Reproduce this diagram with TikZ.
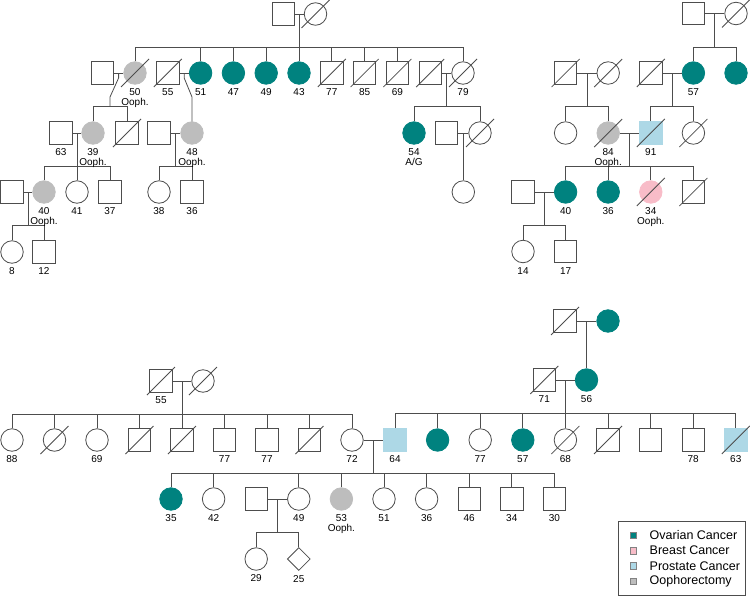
\documentclass[tikz,border=0pt]{standalone}
\usepackage{fontspec}
\setmainfont{Liberation Sans}
\usetikzlibrary{positioning,shapes.geometric,calc}
\definecolor{ovar}{HTML}{00827F}
\definecolor{brst}{HTML}{F8BCC8}
\definecolor{prost}{HTML}{ADD8E6}
\definecolor{ooph}{HTML}{BDBDBD}
\definecolor{lncol}{HTML}{4D4D4D}

\tikzset{
  ind/.style={draw=lncol,line width=0.8pt,inner sep=0pt,minimum size=22.5pt},
  male/.style={ind,rectangle},
  fem/.style={ind,circle},
  unk/.style={ind,diamond,aspect=1,minimum size=23pt},
  ov/.style={fill=ovar,draw=ovar},
  br/.style={fill=brst,draw=brst},
  pr/.style={fill=prost,draw=prost},
  op/.style={fill=ooph,draw=ooph},
  fov/.style={fem,ov},
  fop/.style={fem,op},
  mpr/.style={male,pr},
  rel/.style={draw=lncol,line width=0.8pt},
  lab/.style={font=\fontsize{10}{9.5}\selectfont,align=center,inner sep=0pt},
  key/.style={draw=lncol!70,line width=0.5pt,inner sep=0pt,minimum size=6.5pt},
  keytext/.style={font=\fontsize{12.5}{14}\selectfont,inner sep=0pt,anchor=west}
}

\begin{document}
\begin{tikzpicture}[x=1pt,y=-1pt]
\useasboundingbox (0,0) rectangle (750,597);

% top left family
\node[male] (a1) at (283.5,14) {};
\node[fem] (a2) at (315.5,14) {};
\node[male] (b1) at (102.2,73) {};
\node[fop] (b2) at (135,73) {};
\node[male] (b3) at (167.8,73) {};
\foreach \x [count=\i from 4] in {200.6,233.4,266.2,299} \node[fov] (b\i) at (\x,73) {};
\foreach \x [count=\i from 8] in {331.8,364.6,397.4,430.2} \node[male] (b\i) at (\x,73) {};
\node[fem] (b12) at (463,73) {};
\node[male] (c1) at (61,133) {};
\node[fop] (c2) at (93,133) {};
\node[male] (c3) at (127,133) {};
\node[male] (c4) at (159,133) {};
\node[fop] (c5) at (192,133) {};
\node[male] (d1) at (12,192) {};
\node[fop] (d2) at (44,192) {};
\node[fem] (d3) at (77,192) {};
\node[male] (d4) at (110,192) {};
\node[fem] (d5) at (159,192) {};
\node[male] (d6) at (192,192) {};
\node[fem] (e1) at (12,252) {};
\node[male] (e2) at (44,252) {};
\node[fov] (f1) at (414,133) {};
\node[male] (f2) at (446.6,133) {};
\node[fem] (f3) at (480,133) {};
\node[fem] (g1) at (463.3,192) {};

% top right family
\node[male] (h1) at (693.4,13.5) {};
\node[fem] (h2) at (736,13.5) {};
\node[male] (r1) at (565.6,73) {};
\node[fem] (r2) at (608.2,73) {};
\node[male] (r3) at (650.8,73) {};
\node[fov] (r4) at (693.4,73) {};
\node[fov] (r5) at (736,73) {};
\node[fem] (s1) at (565.6,133) {};
\node[fop] (s2) at (608.2,133) {};
\node[mpr] (s3) at (650.8,133) {};
\node[fem] (s4) at (693.4,133) {};
\node[male] (t1) at (523,192) {};
\node[fov] (t2) at (565.6,192) {};
\node[fov] (t3) at (608.2,192) {};
\node[fem,br] (t4) at (650.8,192) {};
\node[male] (t5) at (693.4,192) {};
\node[fem] (u1) at (523,251.5) {};
\node[male] (u2) at (565.6,251.5) {};

% bottom family
\node[male] (v1) at (161,381) {};
\node[fem] (v2) at (203,381) {};
\foreach \s [count=\i] in {fem,fem,fem,male,male,male,male,male,fem}
  \node[\s] (w\i) at (12+42.5*\i-42.5,440) {};
\node[mpr] (q1) at (395,440) {};
\foreach \s [count=\i from 2] in {fov,fem,fov,fem,male,male,male,mpr}
  \node[\s] (q\i) at (395+42.6*\i-42.6,440) {};
\foreach \s [count=\i] in {fov,fem,male,fem,fop,fem,fem,male,male,male}
  \node[\s] (k\i) at (171+42.6*\i-42.6,499) {};
\node[fem] (n1) at (256.2,559) {};
\node[unk] (n2) at (298.8,559) {};
\node[male] (o1) at (565,321) {};
\node[fov] (o2) at (608,321) {};
\node[male] (p1) at (544.3,380) {};
\node[fov] (p2) at (586.5,380) {};

% couples
\foreach \u/\v in {a1/a2,b1/b2,b3/b4,b11/b12,c1/c2,c4/c5,d1/d2,f2/f3,h1/h2,r1/r2,r3/r4,s2/s3,t1/t2,v1/v2,w9/q1,k3/k4,o1/o2,p1/p2}
{
  \draw[rel] (\u) -- (\v);
  \coordinate (m\u) at ($(\u)!0.5!(\v)$);
  \coordinate (s\u) at ($(m\u)+(0,33.5)$);
}

% lines of descent
\foreach \p/\kids in {a1/{b2,b4,b5,b6,b7,b8,b9,b10,b12},c1/{d2,d3,d4},c4/{d5,d6},d1/{e1,e2},b11/{f1,f3},h1/{r4,r5},r1/{s1,s2},r3/{s3,s4},s2/{t2,t3,t4,t5},t1/{u1,u2},v1/{w1,w2,w3,w4,w5,w6,w7,w8,w9},w9/{k1,k2,k4,k5,k6,k7,k8,k9,k10},k3/{n1,n2},p1/{q1,q2,q3,q4,q5,q6,q7,q8,q9}}
{
  \draw[rel] (m\p) -- (s\p);
  \foreach \k in \kids \draw[rel] (\k.north) |- (s\p);
}
\coordinate (kb1) at (110,97);
\coordinate (jb1) at (110,106.5);
\draw[rel] (mb1) -- ++(0,5) -- (kb1) -- (jb1);
\draw[rel] (c2.north) |- (jb1) -| (c3.north);
\coordinate (kb3) at (192,97);
\draw[rel] (mb3) -- ++(0,5) -- (kb3) -- (c5);
\draw[rel] (mf2) -- (g1);
\draw[rel] (mo1) -- (p2);

% deceased
\foreach \n in {a2,b2,b3,b8,b9,b10,b11,b12,c3,f3,h2,r1,r2,r3,s2,s3,s4,t4,t5,v1,v2,w2,w4,w5,w8,o1,p1,q5,q6,q9}
  \draw[rel] ($(\n)+(-14,14)$) -- ($(\n)+(14,-14)$);

% ages
\foreach \n/\t in {b2/{50\\Ooph.},b3/55,b4/51,b5/47,b6/49,b7/43,b8/77,b9/85,b10/69,b12/79,
  c1/63,c2/{39\\Ooph.},c5/{48\\Ooph.},d2/{40\\Ooph.},d3/41,d4/37,d5/38,d6/36,e1/8,e2/12,f1/{54\\A/G},
  r4/57,s2/{84\\Ooph.},s3/91,t2/40,t3/36,t4/{34\\Ooph.},u1/14,u2/17,
  v1/55,w1/88,w3/69,w6/77,w7/77,w9/72,k1/35,k2/42,k4/49,k5/{53\\Ooph.},k6/51,k7/36,k8/46,k9/34,k10/30,
  n1/29,n2/25,p1/71,p2/56,q1/64,q3/77,q4/57,q5/68,q8/78,q9/63}
  \node[lab,below=4pt of \n] (l\n) {\t};

% legend
\node[draw=lncol,line width=0.6pt,inner sep=0pt,minimum width=127pt,minimum height=74pt] (legend) at (681.5,558) {};
\foreach \c/\t [count=\i] in {ov/Ovarian Cancer,br/Breast Cancer,pr/Prostate Cancer,op/Oophorectomy}
{
  \node[\c,key] (key\i) at (633,520+15.3*\i) {};
  \node[keytext] (keyt\i) at (649.5,520+15.3*\i) {\t};
}
\end{tikzpicture}
\end{document}
